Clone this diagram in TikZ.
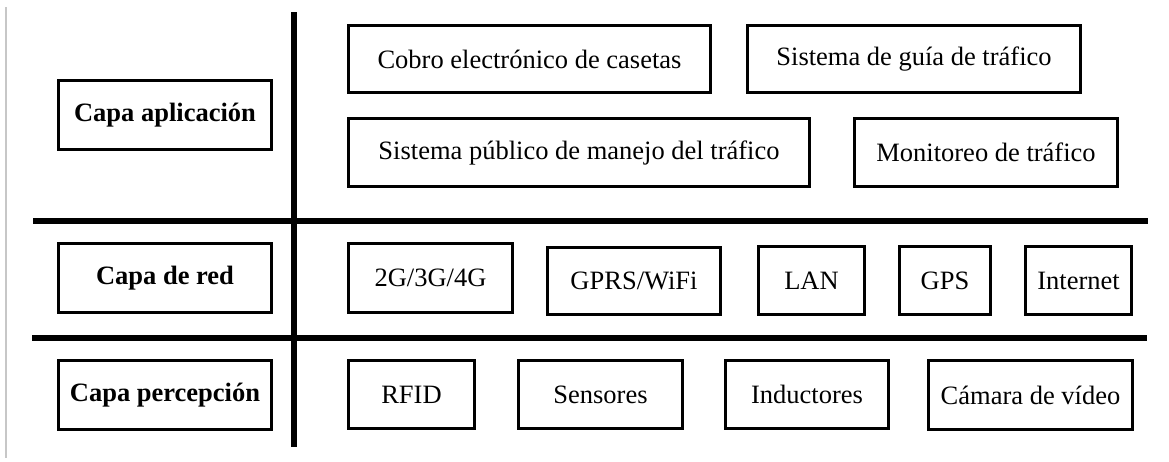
\documentclass[tikz,border=0pt]{standalone}
\usepackage{fontspec}
\setmainfont{Liberation Serif}
\begin{document}
\begin{tikzpicture}[x=1pt,y=-1pt,
  box/.style={draw=black, line width=3pt, inner sep=0pt, font=\fontsize{26.5}{30}\selectfont},
  layer/.style={box, font=\fontsize{26.5}{30}\selectfont\bfseries, minimum width=213pt, minimum height=69pt},
  sep/.style={line width=6pt, black}]
\useasboundingbox (0,0) rectangle (1169,461);
% faint border line at left
\coordinate (gt) at (6,7);
\coordinate (gb) at (6,458);
\draw[black!22, line width=1.5pt] (gt) -- (gb);
% separators
\coordinate (v1) at (293.5,12);
\coordinate (v2) at (293.5,447);
\coordinate (h1a) at (33,221);
\coordinate (h1b) at (1148,221);
\coordinate (h2a) at (32,338);
\coordinate (h2b) at (1147,338);
\draw[sep] (v1) -- (v2);
\draw[sep] (h1a) -- (h1b);
\draw[sep] (h2a) -- (h2b);
% layer labels
\node[layer] (app) at (165,115) {Capa aplicación};
\node[layer] (red) at (165,278) {Capa de red};
\node[layer] (per) at (165,395) {Capa percepción};
% application layer
\node[box, minimum width=362pt, minimum height=67pt] (cobro) at (529.5,59) {Cobro electrónico de casetas};
\node[box, minimum width=333pt, minimum height=67pt] (guia) at (914,59) {Sistema de guía de tráfico};
\node[box, minimum width=461pt, minimum height=68pt] (pub) at (579,152.5) {Sistema público de manejo del tráfico};
\node[box, minimum width=263pt, minimum height=68pt] (mon) at (986,152.5) {Monitoreo de tráfico};
% network layer
\node[box, minimum width=164pt, minimum height=69pt] (g4) at (430.5,278) {2G/3G/4G};
\node[box, minimum width=173pt, minimum height=67pt] (gprs) at (634,281) {GPRS/WiFi};
\node[box, minimum width=106pt, minimum height=68pt] (lan) at (811.5,280.5) {LAN};
\node[box, minimum width=91pt, minimum height=68pt] (gps) at (945,280.5) {GPS};
\node[box, minimum width=106pt, minimum height=68pt] (inet) at (1078.5,280.5) {Internet};
% perception layer
\node[box, minimum width=126pt, minimum height=68pt] (rfid) at (411.5,394.5) {RFID};
\node[box, minimum width=164pt, minimum height=68pt] (sens) at (600.5,394.5) {Sensores};
\node[box, minimum width=163pt, minimum height=68pt] (ind) at (807,394.5) {Inductores};
\node[box, minimum width=204pt, minimum height=69pt] (cam) at (1030.5,395) {Cámara de vídeo};
\end{tikzpicture}
\end{document}
